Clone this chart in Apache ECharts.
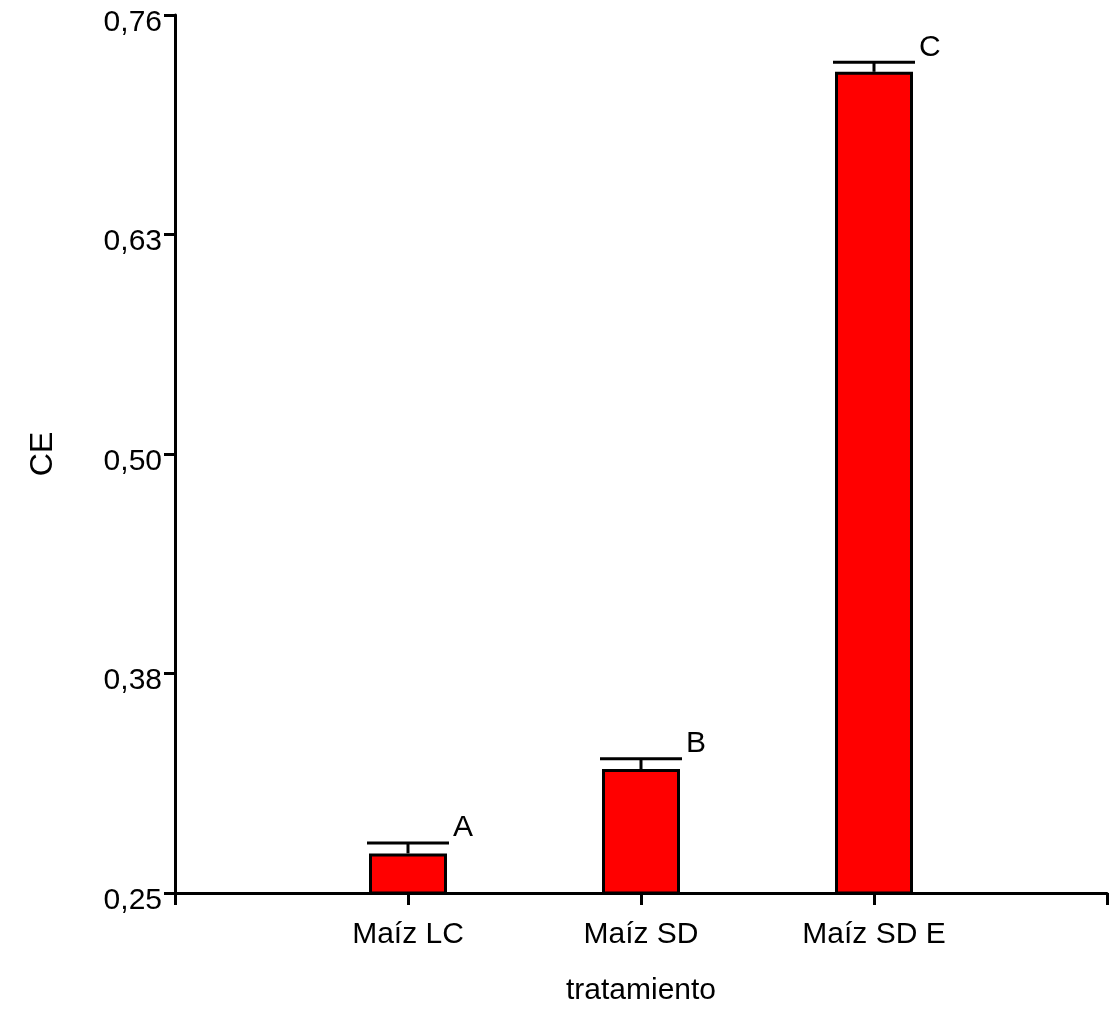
<!DOCTYPE html>
<html>
<head>
<meta charset="utf-8">
<title>CE por tratamiento</title>
<script src="https://cdn.jsdelivr.net/npm/echarts@6/dist/echarts.min.js"></script>
<style>
  html, body { margin: 0; padding: 0; background: #ffffff; }
  #chart { width: 1112px; height: 1010px; }
</style>
</head>
<body>
<div id="chart"></div>
<script>
// Treatments, their mean CE and standard error, and the significance letters
const categories = ['Maíz LC', 'Maíz SD', 'Maíz SD E'];
const categoryPositions = [1, 2, 3];
const meanCE = [0.273, 0.322, 0.727];
const errorCE = [0.006, 0.006, 0.0055];
const groupLetters = ['A', 'B', 'C'];
const yTickLabels = ['0,25', '0,38', '0,50', '0,63', '0,76'];

const FONT = "'Liberation Sans', Arial, Helvetica, sans-serif";

const barData = categoryPositions.map((x, i) => [x, meanCE[i]]);
const errData = categoryPositions.map((x, i) => [x, meanCE[i], meanCE[i] + errorCE[i], i]);

const chart = echarts.init(document.getElementById('chart'), null, { renderer: 'canvas' });

chart.setOption({
  backgroundColor: '#ffffff',
  animation: false,
  grid: {
    left: 175, right: 5, top: 15, bottom: 117,
    containLabel: false,
    outerBoundsMode: 'none'
  },
  xAxis: {
    type: 'value',
    min: 0, max: 4, interval: 1,
    name: 'tratamiento',
    nameLocation: 'middle',
    nameGap: 83,
    nameTextStyle: { color: '#000', fontSize: 30, fontFamily: FONT, lineHeight: 30 },
    axisLine: { show: true, lineStyle: { color: '#000', width: 3 } },
    axisTick: { show: true, length: 12, lineStyle: { color: '#000', width: 3 } },
    splitLine: { show: false },
    axisLabel: {
      color: '#000', fontSize: 30, fontFamily: FONT, lineHeight: 30, margin: 27,
      showMinLabel: true, showMaxLabel: true,
      formatter: function (v) {
        const i = categoryPositions.indexOf(Math.round(v));
        return i >= 0 ? categories[i] : '';
      }
    }
  },
  yAxis: {
    type: 'value',
    min: 0.25, max: 0.76, interval: 0.1275,
    name: 'CE',
    nameLocation: 'middle',
    nameRotate: 90,
    nameGap: 116,
    nameTextStyle: { color: '#000', fontSize: 32, fontFamily: FONT, lineHeight: 32 },
    axisLine: { show: true, lineStyle: { color: '#000', width: 3 } },
    axisTick: { show: true, length: 11, lineStyle: { color: '#000', width: 3 } },
    splitLine: { show: false },
    axisLabel: {
      color: '#000', fontSize: 30, fontFamily: FONT, margin: 13,
      // labels sit slightly below their tick
      verticalAlign: 'top', lineHeight: 15,
      showMinLabel: true, showMaxLabel: true,
      formatter: function (v, idx) { return yTickLabels[idx] !== undefined ? yTickLabels[idx] : ''; }
    }
  },
  series: [
    {
      type: 'bar',
      data: barData,
      barWidth: 78,
      itemStyle: { color: '#ff0000', borderColor: '#000', borderWidth: 3 },
      z: 2
    },
    {
      // error bar (stem + cap) with the group letter beside the cap
      type: 'custom',
      data: errData,
      z: 3,
      renderItem: function (params, api) {
        const x = api.value(0);
        const top = api.coord([x, api.value(2)]);
        const base = api.coord([x, api.value(1)]);
        const idx = api.value(3);
        const half = 41;
        const stroke = { stroke: '#000', lineWidth: 3 };
        return {
          type: 'group',
          children: [
            { type: 'line', shape: { x1: top[0], y1: top[1], x2: base[0], y2: base[1] }, style: stroke },
            { type: 'line', shape: { x1: top[0] - half, y1: top[1], x2: top[0] + half, y2: top[1] }, style: stroke },
            {
              type: 'text',
              x: top[0] + half + 4,
              y: top[1] - 15,
              style: {
                text: groupLetters[idx],
                fill: '#000',
                font: '30px ' + FONT,
                align: 'left',
                verticalAlign: 'middle'
              }
            }
          ]
        };
      }
    }
  ]
});
</script>
</body>
</html>
